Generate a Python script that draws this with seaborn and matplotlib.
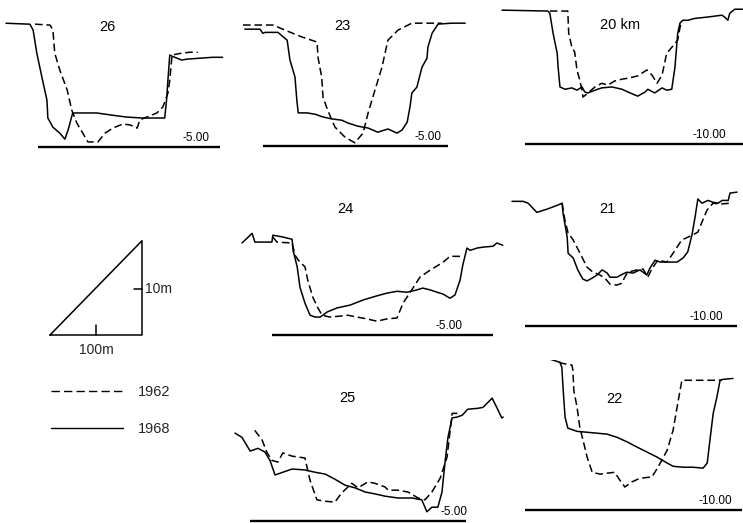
import matplotlib
matplotlib.use("Agg")
import pandas as pd
import seaborn as sns
import matplotlib.pyplot as plt
from matplotlib.lines import Line2D

sns.set_theme(style="white")
plt.rcParams["font.family"] = ["Liberation Sans", "DejaVu Sans"]

# Cross-section profiles: distance across channel (m), bed elevation (m)
km26_dist_1968 = [0, 52, 59, 67, 78, 89, 91, 102, 117, 128, 135, 145, 161, 197, 232, 263, 297, 345, 349, 352, 356, 362, 382, 393, 421, 449, 471]
km26_elev_1968 = [21.9, 21.7, 20.4, 15.4, 10.2, 5.2, 1.3, -0.7, -2.0, -3.3, -1.3, 2.4, 2.4, 2.4, 1.9, 1.5, 1.3, 1.3, 5.2, 9.5, 15.0, 14.7, 13.9, 14.1, 14.3, 14.5, 14.5]
km26_dist_1962 = [63, 96, 102, 106, 117, 133, 143, 154, 167, 178, 200, 215, 232, 254, 270, 285, 291, 306, 328, 341, 352, 356, 361, 382, 400, 417]
km26_elev_1962 = [21.7, 21.5, 20.4, 15.4, 11.7, 7.4, 3.0, 0.2, -2.0, -3.9, -3.9, -2.0, -0.9, 0.0, -0.2, -0.9, 0.9, 1.5, 2.4, 3.7, 6.7, 9.5, 15.0, 15.4, 15.6, 15.6]

km23_dist_1968 = [4, 37, 43, 48, 76, 96, 102, 113, 117, 120, 139, 157, 174, 193, 215, 228, 250, 272, 293, 315, 335, 346, 357, 363, 367, 378, 389, 400, 402, 411, 424, 454, 483]
km23_elev_1968 = [20.4, 20.4, 19.5, 19.7, 19.7, 18.0, 13.7, 10.0, 5.0, 2.2, 2.2, 1.9, 1.3, 0.9, 0.6, 0.0, -0.7, -1.1, -2.0, -1.3, -2.2, -1.5, 0.2, 3.5, 6.5, 7.8, 12.1, 14.1, 16.5, 19.5, 21.5, 21.7, 21.7]
km23_dist_1962 = [0, 65, 91, 128, 161, 163, 171, 174, 184, 200, 221, 243, 261, 272, 287, 302, 315, 337, 367, 402, 432]
km23_elev_1962 = [21.3, 21.3, 20.2, 18.7, 17.6, 14.3, 10.0, 5.6, 2.8, -0.9, -3.0, -4.3, -2.2, 2.2, 7.2, 12.1, 18.0, 20.2, 21.7, 21.7, 21.7]

km20_dist_1968 = [0, 100, 104, 111, 120, 122, 126, 137, 152, 163, 174, 180, 187, 202, 217, 239, 261, 274, 295, 311, 317, 332, 348, 358, 369, 376, 382, 387, 393, 404, 419, 447, 478, 484, 491, 495, 506, 523]
km20_elev_1968 = [19.1, 18.9, 18.4, 14.1, 9.7, 6.7, 2.4, 1.9, 2.2, 1.7, 2.4, 1.3, 1.1, 1.7, 2.2, 2.4, 1.9, 1.3, 0.4, 1.3, 1.9, 1.1, 2.2, 1.7, 1.9, 6.7, 14.1, 16.3, 16.9, 16.9, 17.3, 17.6, 18.0, 17.6, 16.9, 18.4, 19.3, 19.3]
km20_dist_1962 = [104, 143, 145, 152, 158, 163, 169, 174, 176, 187, 202, 217, 230, 245, 261, 274, 295, 315, 326, 337, 348, 358, 369, 382, 385, 389]
km20_elev_1962 = [18.9, 18.9, 14.1, 11.0, 10.0, 6.1, 3.9, 1.7, 0.2, 1.1, 2.4, 3.2, 2.8, 3.7, 4.1, 4.3, 4.8, 6.1, 5.0, 3.2, 5.0, 9.7, 11.0, 12.6, 14.3, 16.3]

km24_dist_1968 = [0, 22, 28, 65, 67, 89, 109, 111, 120, 126, 137, 148, 159, 170, 185, 207, 235, 263, 293, 315, 337, 359, 380, 393, 409, 424, 437, 452, 463, 474, 480, 489, 496, 511, 524, 546, 554, 567]
km24_elev_1968 = [15.0, 17.1, 15.2, 15.2, 16.7, 16.3, 15.8, 13.4, 9.8, 5.4, 1.9, -0.7, -1.1, -1.1, 0.0, 0.9, 1.5, 2.6, 3.5, 4.1, 4.5, 4.3, 4.8, 5.2, 4.8, 4.3, 3.9, 3.0, 3.7, 6.9, 10.2, 13.9, 13.4, 13.9, 14.1, 14.3, 15.0, 14.5]
km24_dist_1962 = [67, 76, 109, 115, 122, 137, 143, 154, 165, 174, 191, 213, 230, 250, 272, 293, 315, 337, 350, 369, 387, 409, 437, 452, 480]
km24_elev_1962 = [16.3, 15.2, 15.0, 12.4, 11.3, 9.8, 6.9, 3.2, 0.9, -0.7, -1.1, -0.9, -0.7, -1.1, -1.5, -2.0, -1.5, -1.3, 1.9, 4.8, 7.6, 9.1, 10.8, 12.1, 12.1]

km21_dist_1968 = [0, 24, 35, 54, 76, 100, 109, 111, 120, 122, 133, 143, 154, 163, 174, 185, 196, 207, 213, 228, 241, 250, 263, 278, 293, 300, 311, 322, 337, 359, 372, 382, 391, 398, 404, 413, 426, 437, 448, 457, 470, 474, 489]
km21_elev_1968 = [17.1, 17.1, 16.7, 14.7, 15.4, 16.3, 16.7, 14.5, 9.3, 5.8, 4.8, 2.2, 0.2, -0.2, 0.4, 1.1, 2.2, 1.5, 0.6, 0.6, 1.3, 1.7, 1.5, 2.2, 1.1, 2.6, 4.3, 3.9, 3.9, 3.9, 4.8, 6.1, 9.7, 13.7, 17.6, 16.7, 17.3, 16.9, 16.7, 17.3, 17.3, 18.9, 19.1]
km21_dist_1962 = [109, 115, 122, 133, 148, 163, 176, 191, 202, 213, 228, 239, 245, 252, 272, 285, 295, 304, 317, 337, 350, 369, 391, 404, 413, 424, 437, 452, 474]
km21_elev_1962 = [16.7, 13.0, 10.2, 8.7, 5.8, 2.8, 1.7, 1.1, 0.4, -0.9, -1.1, -0.7, 0.6, 1.7, 2.2, 2.4, 0.6, 2.4, 4.3, 3.9, 5.8, 8.7, 9.7, 10.4, 12.6, 15.2, 16.7, 16.5, 16.7]

km25_dist_1968 = [0, 15, 33, 50, 65, 76, 87, 104, 124, 152, 174, 196, 217, 239, 261, 283, 304, 326, 354, 385, 406, 413, 417, 428, 441, 450, 457, 463, 472, 483, 494, 506, 528, 539, 559, 570, 580, 583]
km25_elev_1968 = [14.1, 13.2, 10.2, 10.8, 10.0, 8.2, 5.0, 5.6, 6.3, 6.1, 5.6, 5.2, 4.1, 2.8, 2.2, 1.3, 0.9, 0.4, 0.0, 0.0, -0.4, -2.0, -3.0, -2.0, -2.0, 1.3, 8.2, 13.2, 17.4, 17.6, 18.0, 19.3, 19.5, 19.7, 21.7, 19.5, 17.4, 17.6]
km25_dist_1962 = [43, 59, 69, 80, 93, 104, 124, 152, 163, 178, 196, 217, 232, 254, 267, 289, 304, 326, 333, 354, 376, 398, 413, 428, 446, 461, 472, 485]
km25_elev_1962 = [14.7, 12.6, 10.0, 8.2, 7.8, 9.8, 9.1, 8.7, 3.9, -0.4, -0.7, -0.9, 1.1, 3.2, 2.2, 3.5, 3.2, 2.4, 1.7, 1.7, 1.3, 0.0, -0.4, 1.3, 4.3, 8.9, 18.4, 18.4]

km22_dist_1968 = [0, 28, 50, 54, 57, 61, 67, 87, 109, 130, 152, 174, 196, 217, 239, 261, 283, 296, 317, 339, 361, 370, 376, 383, 391, 398, 404, 426]
km22_elev_1968 = [23.2, 22.8, 22.1, 21.0, 16.0, 10.2, 7.8, 7.1, 6.9, 6.7, 6.5, 5.8, 4.8, 3.7, 2.6, 1.5, 0.2, -0.5, -0.7, -0.7, -0.9, 0.2, 5.2, 11.0, 14.5, 18.2, 18.4, 18.6]
km22_dist_1962 = [0, 28, 54, 76, 78, 80, 87, 93, 100, 109, 120, 137, 152, 169, 180, 191, 206, 224, 250, 263, 283, 296, 306, 315, 339, 370, 402]
km22_elev_1962 = [23.2, 23.0, 21.9, 21.5, 20.4, 16.0, 12.4, 8.0, 5.2, 1.5, -1.8, -2.2, -2.0, -1.8, -3.5, -5.0, -3.9, -3.1, -2.8, -0.7, 3.0, 7.4, 13.2, 18.2, 18.2, 18.2, 18.2]

SURVEYS = ["1962", "1968"]
DASHES = {"1962": (5, 2.5), "1968": ""}

# Drawing scale shared by every section: 100 m across and 10 m deep per 46 px
KX = 100 / 46
KZ = 10 / 46
W, H = 743, 523

# name, anchor pixel of section origin on the datum, datum (m), datum bar extent (m),
# datum label x (m), station label position (m), profiles
stations = [
    ("26", (6, 147), -5.0, (69, 465), 443, (221, 21.0),
     km26_dist_1962, km26_elev_1962, km26_dist_1968, km26_elev_1968),
    ("23", (243, 146), -5.0, (43, 445), 432, (217, 21.0),
     km23_dist_1962, km23_elev_1962, km23_dist_1968, km23_elev_1968),
    ("20 km", (502, 144), -10.0, (50, 540), 488, (256, 15.8),
     km20_dist_1962, km20_elev_1962, km20_dist_1968, km20_elev_1968),
    ("24", (242, 335), -5.0, (65, 545), 480, (224, 22.3),
     km24_dist_1962, km24_elev_1962, km24_dist_1968, km24_elev_1968),
    ("21", (512, 326), -10.0, (28, 489), 458, (208, 15.4),
     km21_dist_1962, km21_elev_1962, km21_dist_1968, km21_elev_1968),
    ("25", (235, 521), -5.0, (33, 503), 506, (245, 21.7),
     km25_dist_1962, km25_elev_1962, km25_dist_1968, km25_elev_1968),
    ("22", (537, 510), -10.0, (-26, 445), 425, (169, 14.1),
     km22_dist_1962, km22_elev_1962, km22_dist_1968, km22_elev_1968),
]

fig = plt.figure(figsize=(7.43, 5.23), dpi=100)
fig.patch.set_facecolor("white")


def section_axes(anchor, datum):
    x0, y0 = anchor
    left, right, top, bottom = -40, 280, 150, 15
    ax = fig.add_axes([(x0 + left) / W, 1 - (y0 + bottom) / H,
                       (right - left) / W, (top + bottom) / H])
    ax.set_xlim(left * KX, right * KX)
    ax.set_ylim(datum - bottom * KZ, datum + top * KZ)
    ax.set_axis_off()
    ax.patch.set_alpha(0)
    return ax


for (name, anchor, datum, bar, lab_x, title_xy,
     d62, z62, d68, z68) in stations:
    ax = section_axes(anchor, datum)
    df = pd.concat([
        pd.DataFrame({"distance": d62, "elevation": z62, "survey": "1962"}),
        pd.DataFrame({"distance": d68, "elevation": z68, "survey": "1968"}),
    ], ignore_index=True)
    sns.lineplot(data=df, x="distance", y="elevation", style="survey",
                 style_order=SURVEYS, dashes=DASHES, color="black",
                 linewidth=1.1, sort=False, estimator=None, legend=False,
                 ax=ax)
    ax.hlines(datum, bar[0], bar[1], color="black", linewidth=1.7)
    ax.annotate(f"{datum:.2f}", xy=(lab_x, datum), xytext=(0, 2),
                textcoords="offset points", ha="right", va="bottom",
                fontsize=8.5, color="black")
    ax.text(title_xy[0], title_xy[1], name, ha="center", va="center",
            fontsize=10.5, color="black")

# Scale triangle
sx = section_axes((50, 335), 0.0)
sx.plot([0, 200, 200, 0], [0, 0, 20.5, 0], color="black", linewidth=1.1)
sx.plot([100, 100], [0, 2.1], color="black", linewidth=1.1)
sx.plot([183, 200], [10, 10], color="black", linewidth=1.1)
sx.text(100, -1.8, "100m", ha="center", va="top", fontsize=10)
sx.text(206, 10, "10m", ha="left", va="center", fontsize=10)

# Survey key
handles = [Line2D([], [], color="black", linewidth=1.0, dashes=(6, 3)),
           Line2D([], [], color="black", linewidth=1.0)]
fig.legend(handles=handles, labels=SURVEYS, loc="upper left",
           bbox_to_anchor=(51 / W, 1 - 385 / H), frameon=False,
           fontsize=10.5, handlelength=4.95, handletextpad=1.0,
           labelspacing=1.6, borderpad=0, borderaxespad=0)

fig.savefig("out.png", dpi=100, facecolor="white")
